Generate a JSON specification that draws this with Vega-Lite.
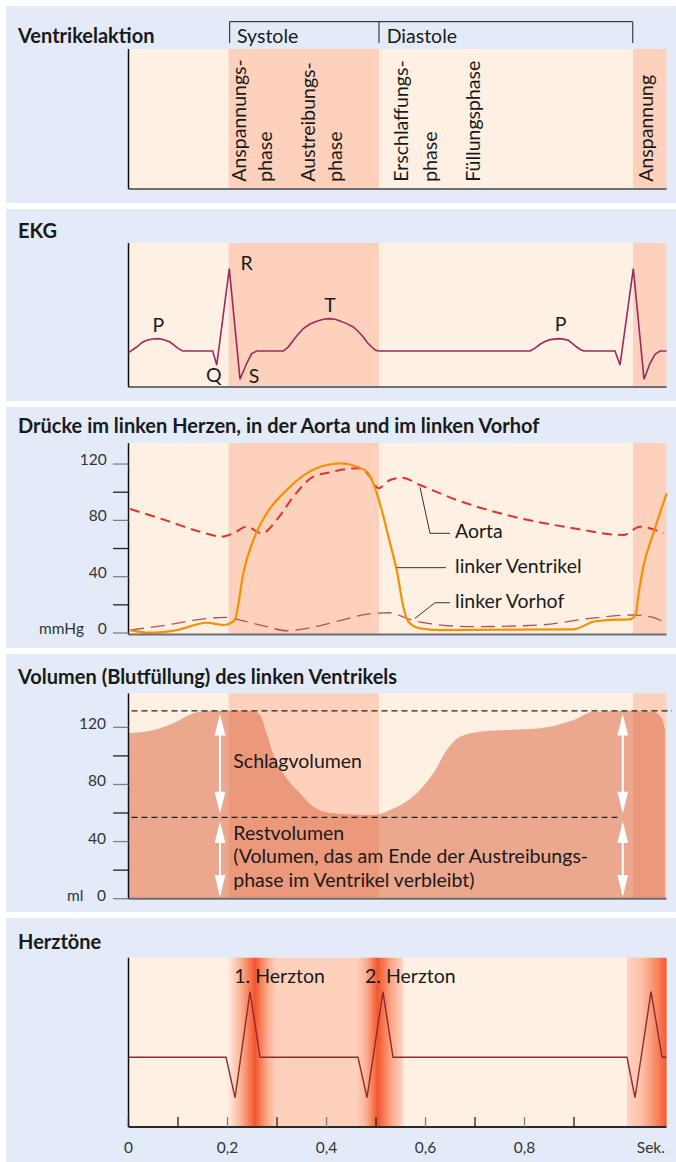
{
"$schema":"https://vega.github.io/schema/vega-lite/v6.json",
"background":"#ffffff",
"padding":{"left":6,"top":6,"right":0,"bottom":0},
"spacing":6,
"config":{"font":"Lato","view":{"fill":"#e2ebf7","stroke":null}},
"resolve":{"scale":{"x":"independent","y":"independent"}},
"datasets":{
"phases":[{"t":0,"t2":0.2024,"kind":"Diastole"},{"t":0.2024,"t2":0.506,"kind":"Systole"},{"t":0.506,"t2":1.0192,"kind":"Diastole"},{"t":1.0192,"t2":1.0869,"kind":"Systole"}],
"ekg":[{"t":0,"v":-0.019},{"t":0.0166,"v":0.048},{"t":0.0268,"v":0.1},{"t":0.0368,"v":0.129},{"t":0.0485,"v":0.145},{"t":0.0602,"v":0.149},{"t":0.072,"v":0.135},{"t":0.0838,"v":0.108},{"t":0.092,"v":0.07},{"t":0.1006,"v":0.029},{"t":0.1095,"v":0},{"t":0.1701,"v":0},{"t":0.1782,"v":-0.169},{"t":0.2036,"v":0.993},{"t":0.2253,"v":-0.341},{"t":0.2388,"v":-0.148},{"t":0.2489,"v":-0.031},{"t":0.259,"v":0},{"t":0.3127,"v":0},{"t":0.3229,"v":0.05},{"t":0.3329,"v":0.129},{"t":0.3431,"v":0.205},{"t":0.3531,"v":0.27},{"t":0.3665,"v":0.325},{"t":0.3802,"v":0.358},{"t":0.3935,"v":0.383},{"t":0.4071,"v":0.39},{"t":0.4173,"v":0.382},{"t":0.4273,"v":0.361},{"t":0.4407,"v":0.33},{"t":0.4541,"v":0.289},{"t":0.4642,"v":0.235},{"t":0.4743,"v":0.169},{"t":0.4828,"v":0.1},{"t":0.4913,"v":0.048},{"t":0.4985,"v":0.012},{"t":0.5046,"v":0},{"t":0.8111,"v":0},{"t":0.8213,"v":0.035},{"t":0.8313,"v":0.081},{"t":0.8414,"v":0.115},{"t":0.8515,"v":0.137},{"t":0.8683,"v":0.149},{"t":0.8785,"v":0.143},{"t":0.8885,"v":0.129},{"t":0.897,"v":0.09},{"t":0.9055,"v":0.048},{"t":0.913,"v":0.015},{"t":0.9202,"v":0},{"t":0.9828,"v":0},{"t":0.9929,"v":-0.169},{"t":1.0198,"v":0.993},{"t":1.0414,"v":-0.341},{"t":1.0535,"v":-0.148},{"t":1.0636,"v":-0.04},{"t":1.0737,"v":0},{"t":1.0869,"v":0}],
"aorta":[{"t":0.003,"v":88.1},{"t":0.0772,"v":79.8},{"t":0.1444,"v":71.9},{"t":0.1883,"v":68.4},{"t":0.2117,"v":70.8},{"t":0.2388,"v":75.5},{"t":0.2691,"v":70.8},{"t":0.2994,"v":80.3},{"t":0.3329,"v":96.8},{"t":0.3733,"v":111},{"t":0.4137,"v":114.6},{"t":0.4273,"v":115.8},{"t":0.4677,"v":117},{"t":0.4879,"v":111},{"t":0.5046,"v":102.8},{"t":0.5283,"v":108.7},{"t":0.5519,"v":110.3},{"t":0.5889,"v":105.1},{"t":0.663,"v":94.5},{"t":0.764,"v":83.8},{"t":0.8986,"v":74.4},{"t":0.9996,"v":69.6},{"t":1.0333,"v":75.5},{"t":1.0804,"v":70.8}],
"lv":[{"t":0.003,"v":2.1},{"t":0.0434,"v":0.2},{"t":0.0974,"v":2.1},{"t":0.158,"v":7.3},{"t":0.1915,"v":5.7},{"t":0.2152,"v":9.2},{"t":0.2198,"v":16.3},{"t":0.2319,"v":42.4},{"t":0.2521,"v":66},{"t":0.2792,"v":85},{"t":0.3196,"v":101.6},{"t":0.36,"v":113.4},{"t":0.4004,"v":119.3},{"t":0.4273,"v":120.5},{"t":0.461,"v":118.1},{"t":0.4812,"v":114.6},{"t":0.4945,"v":106.3},{"t":0.5115,"v":87.4},{"t":0.5283,"v":63.7},{"t":0.5418,"v":44.7},{"t":0.5552,"v":18.7},{"t":0.5653,"v":8},{"t":0.5889,"v":3.3},{"t":0.6293,"v":2.1},{"t":0.8986,"v":2.6},{"t":0.939,"v":8},{"t":0.9661,"v":9.2},{"t":1.0131,"v":9.7},{"t":1.0253,"v":14},{"t":1.0287,"v":23.4},{"t":1.04,"v":47.1},{"t":1.0602,"v":70.8},{"t":1.0873,"v":99.2}],
"la":[{"t":0.003,"v":2.1},{"t":0.0772,"v":5.7},{"t":0.1444,"v":9.7},{"t":0.1984,"v":11.1},{"t":0.2253,"v":9.2},{"t":0.2792,"v":4.5},{"t":0.3196,"v":1.6},{"t":0.36,"v":3.3},{"t":0.4205,"v":8.2},{"t":0.4945,"v":14},{"t":0.5283,"v":14.4},{"t":0.562,"v":10.4},{"t":0.5956,"v":7.3},{"t":0.6966,"v":4.5},{"t":0.8313,"v":5.7},{"t":0.9323,"v":10.4},{"t":1.0198,"v":12.8},{"t":1.0535,"v":11.6},{"t":1.0873,"v":6.9}],
"volume":[{"t":0,"v":115.8},{"t":0.057,"v":118.6},{"t":0.0905,"v":122.8},{"t":0.1309,"v":129.8},{"t":0.1511,"v":131.4},{"t":0.2521,"v":131.4},{"t":0.2657,"v":128.6},{"t":0.2792,"v":115.8},{"t":0.2893,"v":104.1},{"t":0.3127,"v":87.8},{"t":0.3465,"v":73.8},{"t":0.3733,"v":64.4},{"t":0.4137,"v":59.8},{"t":0.4945,"v":58.6},{"t":0.5283,"v":62.1},{"t":0.5822,"v":73.8},{"t":0.6158,"v":87.8},{"t":0.6428,"v":104.1},{"t":0.6697,"v":113.4},{"t":0.7101,"v":116.9},{"t":0.764,"v":118.1},{"t":0.8313,"v":119.3},{"t":0.8986,"v":125.1},{"t":0.939,"v":131},{"t":0.9996,"v":131.4},{"t":1.0602,"v":131},{"t":1.0772,"v":126.3},{"t":1.0838,"v":118.1}],
"sound":[{"t":0,"v":0},{"t":0.197,"v":0},{"t":0.2152,"v":-0.616},{"t":0.2455,"v":1},{"t":0.2657,"v":0},{"t":0.4636,"v":0},{"t":0.4818,"v":-0.616},{"t":0.514,"v":1},{"t":0.5343,"v":0},{"t":1.0071,"v":0},{"t":1.0232,"v":-0.616},{"t":1.0556,"v":1},{"t":1.0778,"v":0},{"t":1.0869,"v":0}]
},
"vconcat":[
{"width":670,"height":197,"layer":[
{"data":{"name":"phases"},"mark":"rect","encoding":{"x":{"field":"t","type":"quantitative","scale":{"domain":[-0.2475,1.106],"nice":false,"zero":false},"axis":null},"x2":{"field":"t2"},"y":{"datum":0,"type":"quantitative","scale":{"domain":[-0.1,1.3071],"nice":false,"zero":false},"axis":null},"y2":{"datum":1},"color":{"field":"kind","type":"nominal","scale":{"domain":["Diastole","Systole"],"range":["#fef1e4","#fed1bd"]},"legend":null}}},
{"data":{"values":[{"t":0,"t2":1.0869,"v":0}]},"mark":{"type":"rule","color":"#6f6f6f","strokeWidth":2},"encoding":{"x":{"field":"t","type":"quantitative","scale":{"domain":[-0.2475,1.106],"nice":false,"zero":false},"axis":null},"x2":{"field":"t2"},"y":{"field":"v","type":"quantitative","scale":{"domain":[-0.1,1.3071],"nice":false,"zero":false},"axis":null}}},
{"data":{"values":[{"t":0,"v":0,"v2":1}]},"mark":{"type":"rule","color":"#111111","strokeWidth":1.5},"encoding":{"x":{"field":"t","type":"quantitative","scale":{"domain":[-0.2475,1.106],"nice":false,"zero":false},"axis":null},"y":{"field":"v","type":"quantitative","scale":{"domain":[-0.1,1.3071],"nice":false,"zero":false},"axis":null},"y2":{"field":"v2"}}},
{"data":{"values":[{"t":0.2042,"v":1.195,"t2":1.0186,"v2":1.195},{"t":0.2042,"v":1.043,"t2":0.2042,"v2":1.195},{"t":0.506,"v":1.043,"t2":0.506,"v2":1.195},{"t":1.0186,"v":1.043,"t2":1.0186,"v2":1.195}]},"mark":{"type":"rule","color":"#3c3c3c","strokeWidth":1.2},"encoding":{"x":{"field":"t","type":"quantitative","scale":{"domain":[-0.2475,1.106],"nice":false,"zero":false},"axis":null},"x2":{"field":"t2"},"y":{"field":"v","type":"quantitative","scale":{"domain":[-0.1,1.3071],"nice":false,"zero":false},"axis":null},"y2":{"field":"v2"}}},
{"data":{"values":[{"t":-0.2232,"v":1.043,"label":"Ventrikelaktion"}]},"mark":{"type":"text","align":"left","baseline":"alphabetic","fontSize":20,"fontWeight":"bold","color":"#1a1a1a"},"encoding":{"x":{"field":"t","type":"quantitative","scale":{"domain":[-0.2475,1.106],"nice":false,"zero":false},"axis":null},"y":{"field":"v","type":"quantitative","scale":{"domain":[-0.1,1.3071],"nice":false,"zero":false},"axis":null},"text":{"field":"label"}}},
{"data":{"values":[{"t":0.2192,"v":1.041,"label":"Systole"},{"t":0.5216,"v":1.041,"label":"Diastole"}]},"mark":{"type":"text","align":"left","baseline":"alphabetic","fontSize":19.5,"color":"#1a1a1a"},"encoding":{"x":{"field":"t","type":"quantitative","scale":{"domain":[-0.2475,1.106],"nice":false,"zero":false},"axis":null},"y":{"field":"v","type":"quantitative","scale":{"domain":[-0.1,1.3071],"nice":false,"zero":false},"axis":null},"text":{"field":"label"}}},
{"data":{"values":[{"t":0.2374,"v":0.052,"label":"Anspannungs-"},{"t":0.2889,"v":0.052,"label":"phase"},{"t":0.3768,"v":0.052,"label":"Austreibungs-"},{"t":0.4309,"v":0.052,"label":"phase"},{"t":0.5653,"v":0.052,"label":"Erschlaffungs-"},{"t":0.6228,"v":0.052,"label":"phase"},{"t":0.7101,"v":0.052,"label":"Füllungsphase"},{"t":1.0602,"v":0.052,"label":"Anspannung"}]},"mark":{"type":"text","align":"left","baseline":"alphabetic","angle":270,"fontSize":19.5,"color":"#1a1a1a"},"encoding":{"x":{"field":"t","type":"quantitative","scale":{"domain":[-0.2475,1.106],"nice":false,"zero":false},"axis":null},"y":{"field":"v","type":"quantitative","scale":{"domain":[-0.1,1.3071],"nice":false,"zero":false},"axis":null},"text":{"field":"label"}}}
]},
{"width":670,"height":192,"layer":[
{"data":{"name":"phases"},"mark":"rect","encoding":{"x":{"field":"t","type":"quantitative","scale":{"domain":[-0.2475,1.106],"nice":false,"zero":false},"axis":null},"x2":{"field":"t2"},"y":{"datum":-0.434,"type":"quantitative","scale":{"domain":[-0.6024,1.7108],"nice":false,"zero":false},"axis":null},"y2":{"datum":1.301},"color":{"field":"kind","type":"nominal","scale":{"domain":["Diastole","Systole"],"range":["#fef1e4","#fed1bd"]},"legend":null}}},
{"data":{"values":[{"t":0,"t2":1.0869,"v":-0.434}]},"mark":{"type":"rule","color":"#6f6f6f","strokeWidth":2},"encoding":{"x":{"field":"t","type":"quantitative","scale":{"domain":[-0.2475,1.106],"nice":false,"zero":false},"axis":null},"x2":{"field":"t2"},"y":{"field":"v","type":"quantitative","scale":{"domain":[-0.6024,1.7108],"nice":false,"zero":false},"axis":null}}},
{"data":{"values":[{"t":0,"v":-0.434,"v2":1.301}]},"mark":{"type":"rule","color":"#111111","strokeWidth":1.5},"encoding":{"x":{"field":"t","type":"quantitative","scale":{"domain":[-0.2475,1.106],"nice":false,"zero":false},"axis":null},"y":{"field":"v","type":"quantitative","scale":{"domain":[-0.6024,1.7108],"nice":false,"zero":false},"axis":null},"y2":{"field":"v2"}}},
{"data":{"name":"ekg"},"mark":{"type":"line","color":"#9b2b5d","strokeWidth":1.6},"encoding":{"x":{"field":"t","type":"quantitative","scale":{"domain":[-0.2475,1.106],"nice":false,"zero":false},"axis":null},"y":{"field":"v","type":"quantitative","scale":{"domain":[-0.6024,1.7108],"nice":false,"zero":false},"axis":null}}},
{"data":{"values":[{"t":-0.2232,"v":1.358,"label":"EKG"}]},"mark":{"type":"text","align":"left","baseline":"alphabetic","fontSize":20,"fontWeight":"bold","color":"#1a1a1a"},"encoding":{"x":{"field":"t","type":"quantitative","scale":{"domain":[-0.2475,1.106],"nice":false,"zero":false},"axis":null},"y":{"field":"v","type":"quantitative","scale":{"domain":[-0.6024,1.7108],"nice":false,"zero":false},"axis":null},"text":{"field":"label"}}},
{"data":{"values":[{"t":0.0602,"v":0.2325,"label":"P"},{"t":0.1721,"v":-0.37,"label":"Q"},{"t":0.2388,"v":0.976,"label":"R"},{"t":0.2535,"v":-0.382,"label":"S"},{"t":0.4071,"v":0.4735,"label":"T"},{"t":0.8731,"v":0.2446,"label":"P"}]},"mark":{"type":"text","align":"center","baseline":"alphabetic","fontSize":19.5,"color":"#1a1a1a"},"encoding":{"x":{"field":"t","type":"quantitative","scale":{"domain":[-0.2475,1.106],"nice":false,"zero":false},"axis":null},"y":{"field":"v","type":"quantitative","scale":{"domain":[-0.6024,1.7108],"nice":false,"zero":false},"axis":null},"text":{"field":"label"}}}
]},
{"width":670,"height":241,"layer":[
{"data":{"name":"phases"},"mark":"rect","encoding":{"x":{"field":"t","type":"quantitative","scale":{"domain":[-0.2475,1.106],"nice":false,"zero":false},"axis":null},"x2":{"field":"t2"},"y":{"datum":-1,"type":"quantitative","scale":{"domain":[-10.65,160.51],"nice":false,"zero":false},"axis":null},"y2":{"datum":134.9},"color":{"field":"kind","type":"nominal","scale":{"domain":["Diastole","Systole"],"range":["#fef1e4","#fed1bd"]},"legend":null}}},
{"data":{"name":"la"},"mark":{"type":"line","interpolate":"monotone","color":"#b4514f","strokeWidth":1.3,"strokeDash":[14,7]},"encoding":{"x":{"field":"t","type":"quantitative","scale":{"domain":[-0.2475,1.106],"nice":false,"zero":false},"axis":null},"y":{"field":"v","type":"quantitative","scale":{"domain":[-10.65,160.51],"nice":false,"zero":false},"axis":null}}},
{"data":{"name":"aorta"},"mark":{"type":"line","interpolate":"monotone","color":"#e2322b","strokeWidth":2,"strokeDash":[10,6]},"encoding":{"x":{"field":"t","type":"quantitative","scale":{"domain":[-0.2475,1.106],"nice":false,"zero":false},"axis":null},"y":{"field":"v","type":"quantitative","scale":{"domain":[-10.65,160.51],"nice":false,"zero":false},"axis":null}}},
{"data":{"name":"lv"},"mark":{"type":"line","interpolate":"monotone","color":"#f39200","strokeWidth":2.2},"encoding":{"x":{"field":"t","type":"quantitative","scale":{"domain":[-0.2475,1.106],"nice":false,"zero":false},"axis":null},"y":{"field":"v","type":"quantitative","scale":{"domain":[-10.65,160.51],"nice":false,"zero":false},"axis":null}}},
{"data":{"values":[{"t":0,"t2":1.0869,"v":-1}]},"mark":{"type":"rule","color":"#6f6f6f","strokeWidth":2},"encoding":{"x":{"field":"t","type":"quantitative","scale":{"domain":[-0.2475,1.106],"nice":false,"zero":false},"axis":null},"x2":{"field":"t2"},"y":{"field":"v","type":"quantitative","scale":{"domain":[-10.65,160.51],"nice":false,"zero":false},"axis":null}}},
{"data":{"values":[{"t":0,"v":-1,"v2":134.9}]},"mark":{"type":"rule","color":"#111111","strokeWidth":1.5},"encoding":{"x":{"field":"t","type":"quantitative","scale":{"domain":[-0.2475,1.106],"nice":false,"zero":false},"axis":null},"y":{"field":"v","type":"quantitative","scale":{"domain":[-10.65,160.51],"nice":false,"zero":false},"axis":null},"y2":{"field":"v2"}}},
{"data":{"values":[{"v":20},{"v":60},{"v":100}]},"mark":{"type":"rule","color":"#222222","strokeWidth":1.3},"encoding":{"x":{"datum":-0.0313,"type":"quantitative","scale":{"domain":[-0.2475,1.106],"nice":false,"zero":false},"axis":null},"x2":{"datum":0},"y":{"field":"v","type":"quantitative","scale":{"domain":[-10.65,160.51],"nice":false,"zero":false},"axis":null}}},
{"data":{"values":[{"v":0},{"v":40},{"v":80},{"v":120}]},"mark":{"type":"rule","color":"#808080","strokeWidth":1.3},"encoding":{"x":{"datum":-0.0313,"type":"quantitative","scale":{"domain":[-0.2475,1.106],"nice":false,"zero":false},"axis":null},"x2":{"datum":0},"y":{"field":"v","type":"quantitative","scale":{"domain":[-10.65,160.51],"nice":false,"zero":false},"axis":null}}},
{"data":{"values":[{"t":-0.044,"v":0,"label":"0"},{"t":-0.044,"v":40,"label":"40"},{"t":-0.044,"v":80,"label":"80"},{"t":-0.044,"v":120,"label":"120"},{"t":-0.0899,"v":0,"label":"mmHg"}]},"mark":{"type":"text","align":"right","baseline":"alphabetic","dy":1,"fontSize":15.5,"color":"#333333"},"encoding":{"x":{"field":"t","type":"quantitative","scale":{"domain":[-0.2475,1.106],"nice":false,"zero":false},"axis":null},"y":{"field":"v","type":"quantitative","scale":{"domain":[-10.65,160.51],"nice":false,"zero":false},"axis":null},"text":{"field":"label"}}},
{"data":{"values":[{"id":"a","o":1,"t":0.5889,"v":103.5},{"id":"a","o":2,"t":0.6091,"v":70.8},{"id":"a","o":3,"t":0.6495,"v":70.8},{"id":"b","o":1,"t":0.5418,"v":46.4},{"id":"b","o":2,"t":0.6414,"v":46.4},{"id":"c","o":1,"t":0.5788,"v":10.4},{"id":"c","o":2,"t":0.6192,"v":21.5},{"id":"c","o":3,"t":0.6495,"v":21.5}]},"mark":{"type":"line","color":"#333333","strokeWidth":1},"encoding":{"x":{"field":"t","type":"quantitative","scale":{"domain":[-0.2475,1.106],"nice":false,"zero":false},"axis":null},"y":{"field":"v","type":"quantitative","scale":{"domain":[-10.65,160.51],"nice":false,"zero":false},"axis":null},"detail":{"field":"id"},"order":{"field":"o"}}},
{"data":{"values":[{"t":0.6596,"v":67.3,"label":"Aorta"},{"t":0.6596,"v":42.4,"label":"linker Ventrikel"},{"t":0.6596,"v":17.5,"label":"linker Vorhof"}]},"mark":{"type":"text","align":"left","baseline":"alphabetic","fontSize":19.5,"color":"#1a1a1a"},"encoding":{"x":{"field":"t","type":"quantitative","scale":{"domain":[-0.2475,1.106],"nice":false,"zero":false},"axis":null},"y":{"field":"v","type":"quantitative","scale":{"domain":[-10.65,160.51],"nice":false,"zero":false},"axis":null},"text":{"field":"label"}}},
{"data":{"values":[{"t":-0.2232,"v":141.8,"label":"Drücke im linken Herzen, in der Aorta und im linken Vorhof"}]},"mark":{"type":"text","align":"left","baseline":"alphabetic","fontSize":20,"fontWeight":"bold","color":"#1a1a1a"},"encoding":{"x":{"field":"t","type":"quantitative","scale":{"domain":[-0.2475,1.106],"nice":false,"zero":false},"axis":null},"y":{"field":"v","type":"quantitative","scale":{"domain":[-10.65,160.51],"nice":false,"zero":false},"axis":null},"text":{"field":"label"}}}
]},
{"width":670,"height":258,"layer":[
{"data":{"name":"phases"},"mark":"rect","encoding":{"x":{"field":"t","type":"quantitative","scale":{"domain":[-0.2475,1.106],"nice":false,"zero":false},"axis":null},"x2":{"field":"t2"},"y":{"datum":0,"type":"quantitative","scale":{"domain":[-9.31,171.36],"nice":false,"zero":false},"axis":null},"y2":{"datum":143.8},"color":{"field":"kind","type":"nominal","scale":{"domain":["Diastole","Systole"],"range":["#fef1e4","#fed1bd"]},"legend":null}}},
{"data":{"name":"volume"},"mark":{"type":"area","interpolate":"monotone","color":"#d9603a","opacity":0.5},"encoding":{"x":{"field":"t","type":"quantitative","scale":{"domain":[-0.2475,1.106],"nice":false,"zero":false},"axis":null},"y":{"field":"v","type":"quantitative","scale":{"domain":[-9.31,171.36],"nice":false,"zero":false},"axis":null},"y2":{"datum":0}}},
{"data":{"values":[{"t":0.006,"t2":1.098,"v":131.6},{"t":0.006,"t2":0.993,"v":57}]},"mark":{"type":"rule","color":"#222222","strokeWidth":1.2,"strokeDash":[6,4]},"encoding":{"x":{"field":"t","type":"quantitative","scale":{"domain":[-0.2475,1.106],"nice":false,"zero":false},"axis":null},"x2":{"field":"t2"},"y":{"field":"v","type":"quantitative","scale":{"domain":[-9.31,171.36],"nice":false,"zero":false},"axis":null}}},
{"data":{"values":[{"t":0.1848,"v":62,"v2":127},{"t":0.1848,"v":3,"v2":52},{"t":0.9984,"v":62,"v2":127},{"t":0.9984,"v":3,"v2":52}]},"mark":{"type":"rule","color":"#ffffff","strokeWidth":2},"encoding":{"x":{"field":"t","type":"quantitative","scale":{"domain":[-0.2475,1.106],"nice":false,"zero":false},"axis":null},"y":{"field":"v","type":"quantitative","scale":{"domain":[-9.31,171.36],"nice":false,"zero":false},"axis":null},"y2":{"field":"v2"}}},
{"data":{"values":[{"t":0.1848,"v":121.9,"dir":"up"},{"t":0.1848,"v":67.35,"dir":"down"},{"t":0.1848,"v":46.55,"dir":"up"},{"t":0.1848,"v":9,"dir":"down"},{"t":0.9984,"v":121.9,"dir":"up"},{"t":0.9984,"v":67.35,"dir":"down"},{"t":0.9984,"v":46.55,"dir":"up"},{"t":0.9984,"v":9,"dir":"down"}]},"mark":{"type":"point","filled":true,"color":"#ffffff","opacity":1,"size":462,"strokeWidth":0},"encoding":{"x":{"field":"t","type":"quantitative","scale":{"domain":[-0.2475,1.106],"nice":false,"zero":false},"axis":null},"y":{"field":"v","type":"quantitative","scale":{"domain":[-9.31,171.36],"nice":false,"zero":false},"axis":null},"shape":{"field":"dir","type":"nominal","scale":{"domain":["up","down"],"range":["M0,-1L0.5,1L-0.5,1Z","M0,1L0.5,-1L-0.5,-1Z"]},"legend":null}}},
{"data":{"values":[{"t":0,"t2":1.0869,"v":0}]},"mark":{"type":"rule","color":"#6f6f6f","strokeWidth":2},"encoding":{"x":{"field":"t","type":"quantitative","scale":{"domain":[-0.2475,1.106],"nice":false,"zero":false},"axis":null},"x2":{"field":"t2"},"y":{"field":"v","type":"quantitative","scale":{"domain":[-9.31,171.36],"nice":false,"zero":false},"axis":null}}},
{"data":{"values":[{"t":0,"v":0,"v2":143.8}]},"mark":{"type":"rule","color":"#111111","strokeWidth":1.5},"encoding":{"x":{"field":"t","type":"quantitative","scale":{"domain":[-0.2475,1.106],"nice":false,"zero":false},"axis":null},"y":{"field":"v","type":"quantitative","scale":{"domain":[-9.31,171.36],"nice":false,"zero":false},"axis":null},"y2":{"field":"v2"}}},
{"data":{"values":[{"v":20},{"v":60},{"v":100}]},"mark":{"type":"rule","color":"#222222","strokeWidth":1.3},"encoding":{"x":{"datum":-0.0313,"type":"quantitative","scale":{"domain":[-0.2475,1.106],"nice":false,"zero":false},"axis":null},"x2":{"datum":0},"y":{"field":"v","type":"quantitative","scale":{"domain":[-9.31,171.36],"nice":false,"zero":false},"axis":null}}},
{"data":{"values":[{"v":0},{"v":40},{"v":80},{"v":120}]},"mark":{"type":"rule","color":"#808080","strokeWidth":1.3},"encoding":{"x":{"datum":-0.0313,"type":"quantitative","scale":{"domain":[-0.2475,1.106],"nice":false,"zero":false},"axis":null},"x2":{"datum":0},"y":{"field":"v","type":"quantitative","scale":{"domain":[-9.31,171.36],"nice":false,"zero":false},"axis":null}}},
{"data":{"values":[{"t":-0.0455,"v":0,"label":"0"},{"t":-0.0455,"v":40,"label":"40"},{"t":-0.0455,"v":80,"label":"80"},{"t":-0.0455,"v":120,"label":"120"},{"t":-0.0913,"v":0,"label":"ml"}]},"mark":{"type":"text","align":"right","baseline":"alphabetic","dy":2,"fontSize":15.5,"color":"#333333"},"encoding":{"x":{"field":"t","type":"quantitative","scale":{"domain":[-0.2475,1.106],"nice":false,"zero":false},"axis":null},"y":{"field":"v","type":"quantitative","scale":{"domain":[-9.31,171.36],"nice":false,"zero":false},"axis":null},"text":{"field":"label"}}},
{"data":{"values":[{"t":0.2117,"v":91.3,"label":"Schlagvolumen"},{"t":0.2117,"v":41.1,"label":"Restvolumen"},{"t":0.2117,"v":24.8,"label":"(Volumen, das am Ende der Austreibungs-"},{"t":0.2117,"v":8,"label":"phase im Ventrikel verbleibt)"}]},"mark":{"type":"text","align":"left","baseline":"alphabetic","fontSize":19.5,"color":"#1a1a1a"},"encoding":{"x":{"field":"t","type":"quantitative","scale":{"domain":[-0.2475,1.106],"nice":false,"zero":false},"axis":null},"y":{"field":"v","type":"quantitative","scale":{"domain":[-9.31,171.36],"nice":false,"zero":false},"axis":null},"text":{"field":"label"}}},
{"data":{"values":[{"t":-0.2232,"v":150.3,"label":"Volumen (Blutfüllung) des linken Ventrikels"}]},"mark":{"type":"text","align":"left","baseline":"alphabetic","fontSize":20,"fontWeight":"bold","color":"#1a1a1a"},"encoding":{"x":{"field":"t","type":"quantitative","scale":{"domain":[-0.2475,1.106],"nice":false,"zero":false},"axis":null},"y":{"field":"v","type":"quantitative","scale":{"domain":[-9.31,171.36],"nice":false,"zero":false},"axis":null},"text":{"field":"label"}}}
]},
{"width":670,"height":244,"layer":[
{"data":{"name":"phases"},"mark":"rect","encoding":{"x":{"field":"t","type":"quantitative","scale":{"domain":[-0.2475,1.106],"nice":false,"zero":false},"axis":null},"x2":{"field":"t2"},"y":{"datum":-1.0625,"type":"quantitative","scale":{"domain":[-1.596,2.1235],"nice":false,"zero":false},"axis":null},"y2":{"datum":1.518},"color":{"field":"kind","type":"nominal","scale":{"domain":["Diastole","Systole"],"range":["#fef1e4","#fed1bd"]},"legend":null}}},
{"data":{"values":[{"t":0.2024,"t2":0.2994}]},"mark":{"type":"rect","color":{"gradient":"linear","x1":0,"y1":0,"x2":1,"y2":0,"stops":[{"offset":0,"color":"#feeadf"},{"offset":0.25,"color":"#fbb395"},{"offset":0.55,"color":"#f4552d"},{"offset":0.8,"color":"#fbab8b"},{"offset":1,"color":"#fed3c0"}]}},"encoding":{"x":{"field":"t","type":"quantitative","scale":{"domain":[-0.2475,1.106],"nice":false,"zero":false},"axis":null},"x2":{"field":"t2"},"y":{"datum":-1.0625,"type":"quantitative","scale":{"domain":[-1.596,2.1235],"nice":false,"zero":false},"axis":null},"y2":{"datum":1.518}}},
{"data":{"values":[{"t":0.4616,"t2":0.5545}]},"mark":{"type":"rect","color":{"gradient":"linear","x1":0,"y1":0,"x2":1,"y2":0,"stops":[{"offset":0,"color":"#fed0bc"},{"offset":0.2,"color":"#fbb092"},{"offset":0.45,"color":"#f4562d"},{"offset":0.75,"color":"#fba889"},{"offset":1,"color":"#fed6c4"}]}},"encoding":{"x":{"field":"t","type":"quantitative","scale":{"domain":[-0.2475,1.106],"nice":false,"zero":false},"axis":null},"x2":{"field":"t2"},"y":{"datum":-1.0625,"type":"quantitative","scale":{"domain":[-1.596,2.1235],"nice":false,"zero":false},"axis":null},"y2":{"datum":1.518}}},
{"data":{"values":[{"t":1.0071,"t2":1.0869}]},"mark":{"type":"rect","color":{"gradient":"linear","x1":0,"y1":0,"x2":1,"y2":0,"stops":[{"offset":0,"color":"#fed3c0"},{"offset":0.35,"color":"#fdc3aa"},{"offset":0.7,"color":"#f98e6b"},{"offset":1,"color":"#f45a33"}]}},"encoding":{"x":{"field":"t","type":"quantitative","scale":{"domain":[-0.2475,1.106],"nice":false,"zero":false},"axis":null},"x2":{"field":"t2"},"y":{"datum":-1.0625,"type":"quantitative","scale":{"domain":[-1.596,2.1235],"nice":false,"zero":false},"axis":null},"y2":{"datum":1.518}}},
{"data":{"name":"sound"},"mark":{"type":"line","color":"#8e2b2b","strokeWidth":1.4},"encoding":{"x":{"field":"t","type":"quantitative","scale":{"domain":[-0.2475,1.106],"nice":false,"zero":false},"axis":null},"y":{"field":"v","type":"quantitative","scale":{"domain":[-1.596,2.1235],"nice":false,"zero":false},"axis":null}}},
{"data":{"values":[{"t":0,"t2":1.0869,"v":-1.0625}]},"mark":{"type":"rule","color":"#2a2a2a","strokeWidth":2},"encoding":{"x":{"field":"t","type":"quantitative","scale":{"domain":[-0.2475,1.106],"nice":false,"zero":false},"axis":null},"x2":{"field":"t2"},"y":{"field":"v","type":"quantitative","scale":{"domain":[-1.596,2.1235],"nice":false,"zero":false},"axis":null}}},
{"data":{"values":[{"t":0,"v":-1.0625,"v2":1.518}]},"mark":{"type":"rule","color":"#111111","strokeWidth":1.5},"encoding":{"x":{"field":"t","type":"quantitative","scale":{"domain":[-0.2475,1.106],"nice":false,"zero":false},"axis":null},"y":{"field":"v","type":"quantitative","scale":{"domain":[-1.596,2.1235],"nice":false,"zero":false},"axis":null},"y2":{"field":"v2"}}},
{"data":{"values":[{"t":0},{"t":0.1},{"t":0.3},{"t":0.5},{"t":0.7},{"t":0.9}]},"mark":{"type":"rule","color":"#222222","strokeWidth":1.3},"encoding":{"x":{"field":"t","type":"quantitative","scale":{"domain":[-0.2475,1.106],"nice":false,"zero":false},"axis":null},"y":{"datum":-1.0625,"type":"quantitative","scale":{"domain":[-1.596,2.1235],"nice":false,"zero":false},"axis":null},"y2":{"datum":-0.91}}},
{"data":{"values":[{"t":0.2},{"t":0.4},{"t":0.6},{"t":0.8}]},"mark":{"type":"rule","color":"#808080","strokeWidth":1.3},"encoding":{"x":{"field":"t","type":"quantitative","scale":{"domain":[-0.2475,1.106],"nice":false,"zero":false},"axis":null},"y":{"datum":-1.0625,"type":"quantitative","scale":{"domain":[-1.596,2.1235],"nice":false,"zero":false},"axis":null},"y2":{"datum":-0.91}}},
{"data":{"values":[{"t":0,"v":-1.463,"label":"0"},{"t":0.2,"v":-1.463,"label":"0,2"},{"t":0.4,"v":-1.463,"label":"0,4"},{"t":0.6,"v":-1.463,"label":"0,6"},{"t":0.8,"v":-1.463,"label":"0,8"},{"t":1.0552,"v":-1.463,"label":"Sek."}]},"mark":{"type":"text","align":"center","baseline":"alphabetic","fontSize":15.5,"color":"#333333"},"encoding":{"x":{"field":"t","type":"quantitative","scale":{"domain":[-0.2475,1.106],"nice":false,"zero":false},"axis":null},"y":{"field":"v","type":"quantitative","scale":{"domain":[-1.596,2.1235],"nice":false,"zero":false},"axis":null},"text":{"field":"label"}}},
{"data":{"values":[{"t":0.2137,"v":1.137,"label":"1. Herzton"},{"t":0.4778,"v":1.137,"label":"2. Herzton"}]},"mark":{"type":"text","align":"left","baseline":"alphabetic","fontSize":19.5,"color":"#1a1a1a"},"encoding":{"x":{"field":"t","type":"quantitative","scale":{"domain":[-0.2475,1.106],"nice":false,"zero":false},"axis":null},"y":{"field":"v","type":"quantitative","scale":{"domain":[-1.596,2.1235],"nice":false,"zero":false},"axis":null},"text":{"field":"label"}}},
{"data":{"values":[{"t":-0.2232,"v":1.646,"label":"Herztöne"}]},"mark":{"type":"text","align":"left","baseline":"alphabetic","fontSize":20,"fontWeight":"bold","color":"#1a1a1a"},"encoding":{"x":{"field":"t","type":"quantitative","scale":{"domain":[-0.2475,1.106],"nice":false,"zero":false},"axis":null},"y":{"field":"v","type":"quantitative","scale":{"domain":[-1.596,2.1235],"nice":false,"zero":false},"axis":null},"text":{"field":"label"}}}
]}
]
}
